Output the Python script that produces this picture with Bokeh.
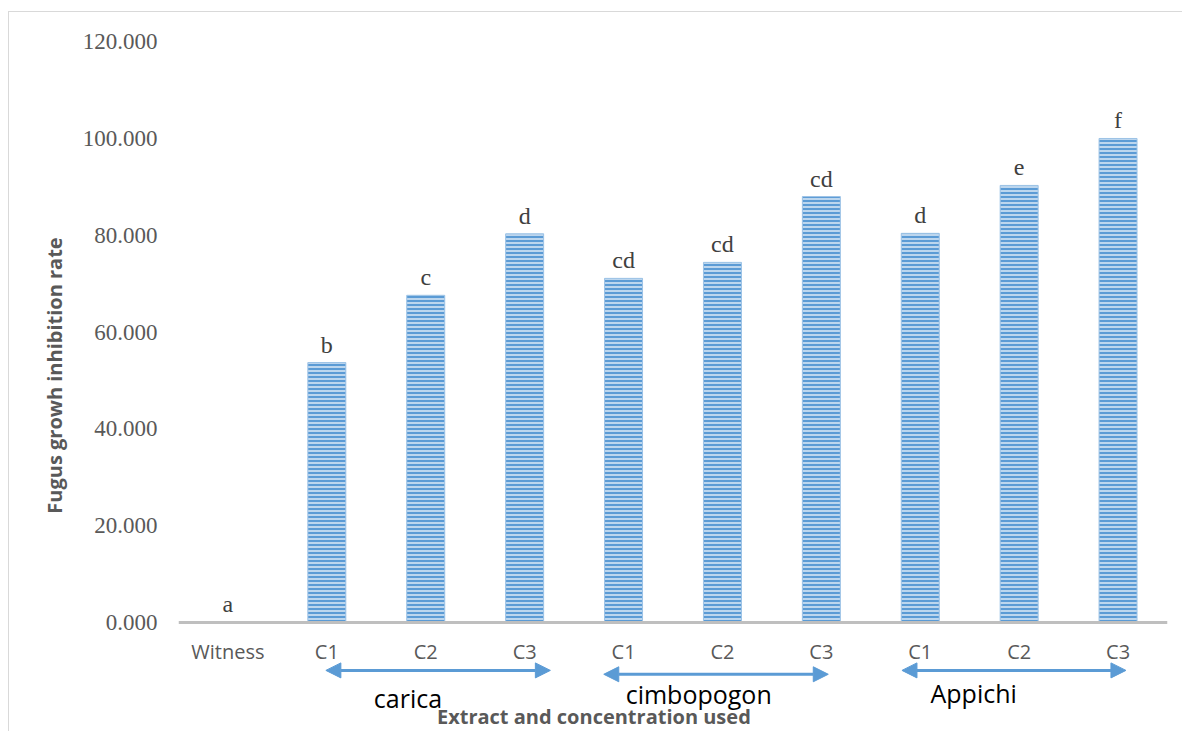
from bokeh.plotting import figure
from bokeh.models import (Range1d, FixedTicker, NumeralTickFormatter, ColumnDataSource,
                          Arrow, NormalHead, Label)
from bokeh.core.properties import value
from bokeh.embed import file_html
from bokeh.resources import INLINE

# ---- data ----
categories = ["Witness", "C1", "C2", "C3", "C1", "C2", "C3", "C1", "C2", "C3"]
inhibition = [0.0, 53.7, 67.6, 80.3, 71.1, 74.4, 88.0, 80.4, 90.3, 100.0]
letters = ["a", "b", "c", "d", "cd", "cd", "cd", "d", "e", "f"]
y_ticks = [0, 20, 40, 60, 80, 100, 120]

groups = ["carica", "cimbopogon", "Appichi"]
group_start = [0.99, 3.80, 6.815]     # arrow spans in category units
group_end = [3.26, 6.07, 9.08]
group_arrow_y = [-9.9, -10.7, -9.9]
group_label_x = [1.82, 4.76, 7.54]
group_label_y = [-15.5, -14.7, -14.5]

x_title = "Extract and concentration used"
y_title = "Fugus growh inhibition rate"

BLUE = "#5b9bd5"
GRAY = "#595959"

xs = list(range(len(categories)))
src = ColumnDataSource(dict(x=xs, top=inhibition, letter=letters))
gsrc = ColumnDataSource(dict(x=group_label_x, y=group_label_y, name=groups))

p = figure(width=1174, height=720,
           x_range=Range1d(-0.5, 9.5), y_range=Range1d(-22.73, 124.79),
           output_backend="svg", toolbar_location=None,
           min_border_left=169, min_border_right=16, min_border_top=6, min_border_bottom=0)
p.styles = {"border-left": "1px solid #d9d9d9", "border-top": "1px solid #d9d9d9",
            "margin-left": "8px", "margin-top": "11px"}
p.outline_line_color = None
p.xgrid.visible = False
p.ygrid.visible = False
p.background_fill_color = "white"
p.border_fill_color = "white"

# y axis
ya = p.yaxis[0]
ya.ticker = FixedTicker(ticks=y_ticks)
ya.formatter = NumeralTickFormatter(format="0.000")
ya.axis_line_color = None
ya.major_tick_line_color = None
ya.minor_tick_line_color = None
ya.major_tick_out = 0
ya.major_label_standoff = 21
ya.major_label_text_font = "Liberation Serif"
ya.major_label_text_font_size = "23px"
ya.major_label_text_color = GRAY
ya.axis_label = y_title
ya.axis_label_text_font = "Open Sans"
ya.axis_label_text_font_style = "bold"
ya.axis_label_text_font_size = "20px"
ya.axis_label_text_color = GRAY
ya.axis_label_standoff = 12

# x axis at y = 0
xa = p.xaxis[0]
xa.fixed_location = 0
xa.ticker = FixedTicker(ticks=xs)
xa.major_label_overrides = {i: c for i, c in zip(xs, categories)}
xa.axis_line_color = "#bfbfbf"
xa.axis_line_width = 3
xa.major_tick_line_color = None
xa.minor_tick_line_color = None
xa.major_tick_out = 0
xa.major_label_standoff = 16
xa.major_label_text_font = "Open Sans"
xa.major_label_text_font_size = "20px"
xa.major_label_text_color = GRAY

# bars
p.vbar(x="x", top="top", bottom=0, width=0.384, source=src,
       fill_color=BLUE, line_color="#9dc3e6", line_width=1,
       hatch_pattern="horizontal_line", hatch_color="#dceaf7",
       hatch_scale=4, hatch_weight=1.5)

# significance letters
p.text(x="x", y="top", text="letter", source=src, text_align="center",
       text_baseline="alphabetic", y_offset=-18,
       text_font=value("Liberation Serif"), text_font_size="24px", text_color="#404040")

# group arrows
for xs0, xe0, ya0 in zip(group_start, group_end, group_arrow_y):
    p.add_layout(Arrow(start=NormalHead(size=15, fill_color=BLUE, line_color=BLUE),
                       end=NormalHead(size=15, fill_color=BLUE, line_color=BLUE),
                       x_start=xs0, y_start=ya0, x_end=xe0, y_end=ya0,
                       line_color=BLUE, line_width=3))

p.text(x="x", y="y", text="name", source=gsrc, text_align="center",
       text_baseline="middle", text_font=value("Open Sans"),
       text_font_size="25px", text_color="black")

p.add_layout(Label(x=3.70, y=-19.4, text=x_title, text_font="Open Sans",
                   text_font_style="bold", text_font_size="20px", text_color=GRAY,
                   text_align="center", text_baseline="middle"))

open("out.html", "w").write(file_html(p, INLINE))
